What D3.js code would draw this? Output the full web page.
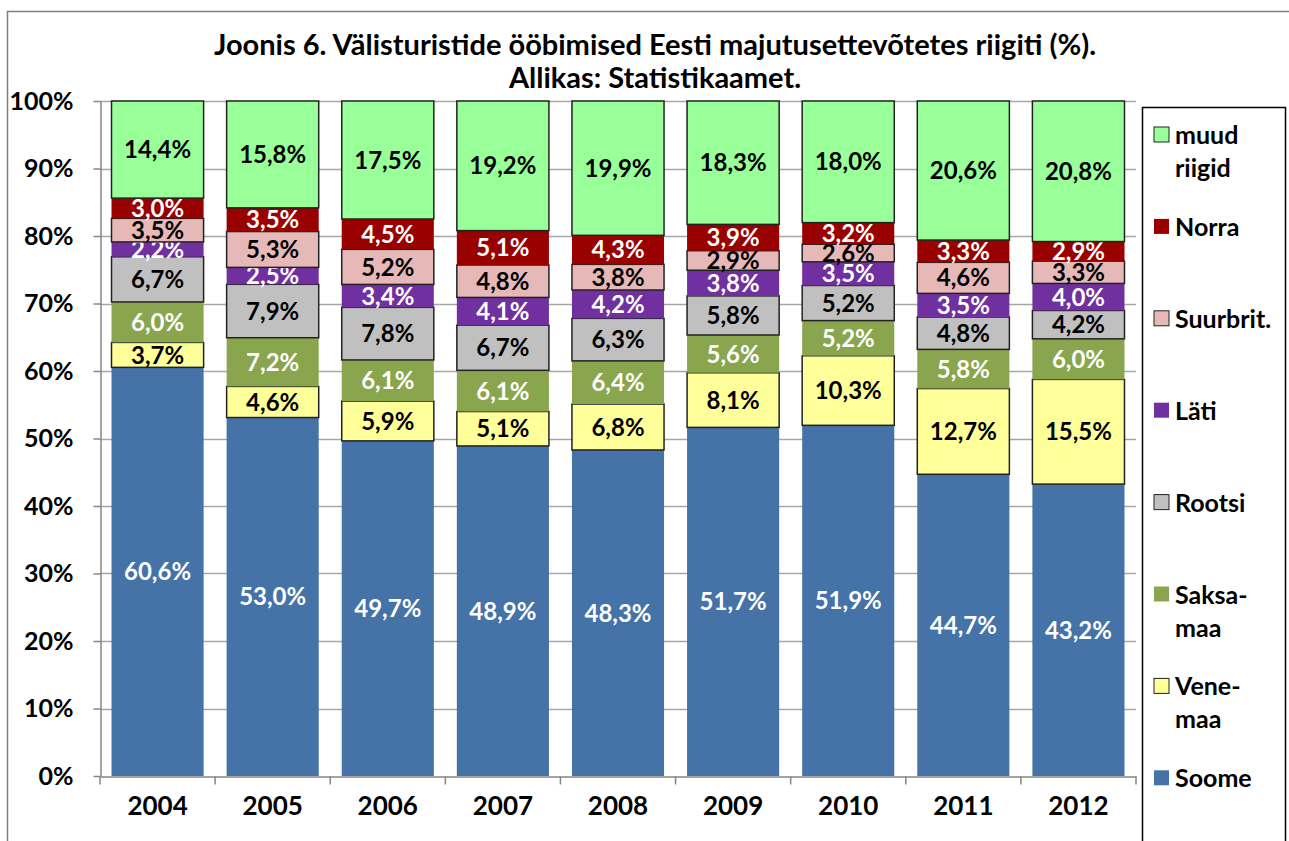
<!DOCTYPE html>
<html>
<head>
<meta charset="utf-8">
<script src="https://cdn.jsdelivr.net/npm/d3@7/dist/d3.min.js"></script>
<style>
  body { margin: 0; background: #fff; }
  text { font-family: Lato, "Open Sans", sans-serif; font-weight: bold; }
</style>
</head>
<body>
<script>
var width = 1289,
    height = 841;

// andmed
var years = ['2004', '2005', '2006', '2007', '2008', '2009', '2010', '2011', '2012'];
var countries = ['Soome', 'Venemaa', 'Saksamaa', 'Rootsi', 'Läti', 'Suurbrit.', 'Norra', 'muud riigid'];
var legendLines = [['Soome'], ['Vene-', 'maa'], ['Saksa-', 'maa'], ['Rootsi'], ['Läti'], ['Suurbrit.'], ['Norra'], ['muud', 'riigid']];
var soome    = [60.6, 53.0, 49.7, 48.9, 48.3, 51.7, 51.9, 44.7, 43.2];
var venemaa  = [3.7, 4.6, 5.9, 5.1, 6.8, 8.1, 10.3, 12.7, 15.5];
var saksamaa = [6.0, 7.2, 6.1, 6.1, 6.4, 5.6, 5.2, 5.8, 6.0];
var rootsi   = [6.7, 7.9, 7.8, 6.7, 6.3, 5.8, 5.2, 4.8, 4.2];
var lati     = [2.2, 2.5, 3.4, 4.1, 4.2, 3.8, 3.5, 3.5, 4.0];
var suurbrit = [3.5, 5.3, 5.2, 4.8, 3.8, 2.9, 2.6, 4.6, 3.3];
var norra    = [3.0, 3.5, 4.5, 5.1, 4.3, 3.9, 3.2, 3.3, 2.9];
var muud     = [14.4, 15.8, 17.5, 19.2, 19.9, 18.3, 18.0, 20.6, 20.8];
var yTicks = [0, 0.1, 0.2, 0.3, 0.4, 0.5, 0.6, 0.7, 0.8, 0.9, 1];

var series = [soome, venemaa, saksamaa, rootsi, lati, suurbrit, norra, muud];
var colors = ['#4572A7', '#FFFF99', '#89A54E', '#C0C0C0', '#7030A0', '#E6B9B8', '#990000', '#99FF99'];
var bordered = [false, true, false, true, false, true, false, true];
var lightText = [true, false, true, false, true, false, true, false];

// tabel d3.stack jaoks (100% tulbad)
var table = years.map(function(yr, i) {
    var row = {year: yr};
    var sum = d3.sum(series, function(s) { return s[i]; });
    countries.forEach(function(c, k) { row[c] = series[k][i] / sum; row[c + '_v'] = series[k][i]; });
    return row;
});
var stacked = d3.stack().keys(countries)(table);

var svg = d3.select('body').append('svg')
    .attr('width', width)
    .attr('height', height);

// välimine raam
svg.append('path')
    .attr('d', 'M7.5,' + height + 'V11.5H' + width)
    .attr('fill', 'none')
    .attr('stroke', '#7f7f7f')
    .attr('stroke-width', 1.5);

var x = d3.scaleBand().domain(years).range([100, 1136]).paddingInner(0.2).paddingOuter(0.1);
var y = d3.scaleLinear().domain([0, 1]).range([776, 101]);

// ruudustik
svg.append('g').selectAll('line')
    .data(yTicks.slice(1))
    .join('line')
    .attr('x1', 100).attr('x2', 1136)
    .attr('y1', function(d) { return Math.round(y(d)) + 0.5; })
    .attr('y2', function(d) { return Math.round(y(d)) + 0.5; })
    .attr('stroke', '#a6a6a6')
    .attr('stroke-width', 1.5);

// teljed
var yAxis = svg.append('g')
    .attr('transform', 'translate(100.5,0)')
    .call(d3.axisLeft(y).tickValues(yTicks).tickFormat(d3.format('.0%')).tickSizeOuter(0).tickSizeInner(7).tickPadding(20));
var xAxis = svg.append('g')
    .attr('transform', 'translate(0,776.5)')
    .call(d3.axisBottom(x).tickSize(0).tickPadding(20));

[yAxis, xAxis].forEach(function(ax) {
    ax.select('.domain').attr('stroke', '#868686').attr('stroke-width', 1.5);
    ax.selectAll('line').attr('stroke', '#868686').attr('stroke-width', 1.5);
});
yAxis.selectAll('text').attr('font-size', 25).attr('fill', '#000').attr('font-family', 'Lato, sans-serif');
xAxis.selectAll('text').attr('font-size', 26).attr('fill', '#000').attr('font-family', 'Lato, sans-serif')
    .attr('dy', '0.71em');

// x-telje kriipsud kategooriate vahel
var step = x.step();
xAxis.selectAll('.sep')
    .data(d3.range(years.length + 1))
    .join('line')
    .attr('x1', function(i) { return 100 + i * step; })
    .attr('x2', function(i) { return 100 + i * step; })
    .attr('y1', 0).attr('y2', 8)
    .attr('stroke', '#868686').attr('stroke-width', 1.5);

// tulbad
var layer = svg.append('g').selectAll('g')
    .data(stacked)
    .join('g');

layer.selectAll('rect')
    .data(function(d) { return d.map(function(p) { return {p: p, k: d.index}; }); })
    .join('rect')
    .attr('x', function(d) { return x(d.p.data.year); })
    .attr('width', x.bandwidth())
    .attr('y', function(d) { return y(d.p[1]); })
    .attr('height', function(d) { return y(d.p[0]) - y(d.p[1]); })
    .attr('fill', function(d) { return colors[d.k]; })
    .attr('stroke', function(d) { return bordered[d.k] ? '#222' : 'none'; })
    .attr('stroke-width', 1.5);

layer.selectAll('text')
    .data(function(d) { return d.map(function(p) { return {p: p, k: d.index, key: d.key}; }); })
    .join('text')
    .attr('x', function(d) { return x(d.p.data.year) + x.bandwidth() / 2; })
    .attr('y', function(d) { return (y(d.p[0]) + y(d.p[1])) / 2; })
    .attr('dy', '0.36em')
    .attr('text-anchor', 'middle')
    .attr('font-size', 24)
    .attr('fill', function(d) { return lightText[d.k] ? '#fff' : '#000'; })
    .text(function(d) { return d3.format('.1f')(d.p.data[d.key + '_v']).replace('.', ',') + '%'; });

// pealkiri
svg.append('text')
    .attr('x', 655).attr('y', 55)
    .attr('text-anchor', 'middle')
    .attr('font-size', 29)
    .text('Joonis 6. Välisturistide ööbimised Eesti majutusettevõtetes riigiti (%).');
svg.append('text')
    .attr('x', 655).attr('y', 88)
    .attr('text-anchor', 'middle')
    .attr('font-size', 29)
    .text('Allikas: Statistikaamet.');

// legend
svg.append('rect')
    .attr('x', 1142.5).attr('y', 107.5)
    .attr('width', 143).attr('height', 760)
    .attr('fill', '#fff')
    .attr('stroke', '#000')
    .attr('stroke-width', 1.5);

var legendOrder = d3.range(countries.length).reverse();
var item = svg.append('g').selectAll('g')
    .data(legendOrder)
    .join('g')
    .attr('transform', function(k, i) { return 'translate(1154,' + (135 + i * 91.9) + ')'; });

item.append('rect')
    .attr('x', 0).attr('y', -8)
    .attr('width', 15).attr('height', 15)
    .attr('fill', function(k) { return colors[k]; })
    .attr('stroke', function(k) { return bordered[k] ? '#222' : 'none'; });

item.append('text')
    .attr('x', 21)
    .attr('font-size', 25)
    .selectAll('tspan')
    .data(function(k) { return legendLines[k]; })
    .join('tspan')
    .attr('x', 21)
    .attr('y', function(d, i) { return i * 33; })
    .attr('dy', '0.36em')
    .text(function(d) { return d; });
</script>
</body>
</html>
